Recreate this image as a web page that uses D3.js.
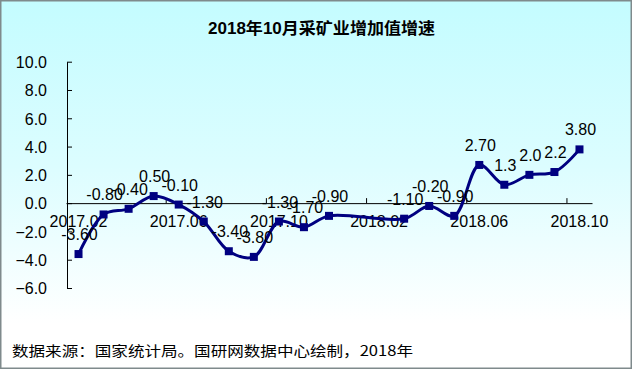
<!DOCTYPE html>
<html lang="zh">
<head>
    <meta charset="UTF-8">
    <title>2018年10月采矿业增加值增速</title>
    <script src="https://d3js.org/d3.v7.min.js"></script>
    <style>
        body { margin: 0; background: #fff; }
        svg { display: block; }
        .num { font-family: "Liberation Sans", Arial, sans-serif; font-size: 16px; fill: #000; }
    </style>
</head>
<body>
    <div id="chart"></div>

    <script>
        // Chart data
        const months = ["2017.02", "2017.03", "2017.04", "2017.05", "2017.06", "2017.07", "2017.08",
            "2017.09", "2017.10", "2017.11", "2017.12", "2018.01", "2018.02", "2018.03", "2018.04",
            "2018.05", "2018.06", "2018.07", "2018.08", "2018.09", "2018.10"];
        const growth = [-3.6, -0.8, -0.4, 0.5, -0.1, -1.3, -3.4, -3.8, -1.3, -1.7, -0.9,
            null, null, -1.1, -0.2, -0.9, 2.7, 1.3, 2.0, 2.2, 3.8];
        const valueLabels = ["-3.60", "-0.80", "-0.40", "0.50", "-0.10", "-1.30", "-3.40", "-3.80",
            "-1.30", "-1.70", "-0.90", null, null, "-1.10", "-0.20", "-0.90", "2.70", "1.3", "2.0", "2.2", "3.80"];
        const xTickLabels = ["2017.02", "2017.06", "2017.10", "2018.02", "2018.06", "2018.10"];
        const yTicks = [-6, -4, -2, 0, 2, 4, 6, 8, 10];

        const W = 632, H = 369;

        const svg = d3.select("#chart")
            .append("svg")
            .attr("width", W)
            .attr("height", H);

        // background gradient
        const grad = svg.append("defs").append("linearGradient")
            .attr("id", "bg")
            .attr("x1", 0).attr("y1", 0).attr("x2", 0).attr("y2", 1);
        grad.append("stop").attr("offset", "0%").attr("stop-color", "#c4fcff");
        grad.append("stop").attr("offset", "45%").attr("stop-color", "#dcfdff");
        grad.append("stop").attr("offset", "88%").attr("stop-color", "#ffffff");

        svg.append("rect")
            .attr("x", 0.75).attr("y", 0.75)
            .attr("width", W - 1.5).attr("height", H - 1.5)
            .attr("fill", "url(#bg)")
            .attr("stroke", "#7f8a8c")
            .attr("stroke-width", 1.5);

        // title (reference glyphs are a bit wide, so stretch to its width)
        svg.append("text")
            .attr("x", 208).attr("y", 34)
            .attr("textLength", 227)
            .attr("lengthAdjust", "spacingAndGlyphs")
            .style("font-family", "'Liberation Sans', 'Noto Sans CJK SC', sans-serif")
            .style("font-weight", "bold")
            .style("font-size", "16px")
            .text("2018年10月采矿业增加值增速");

        // scales
        const x = d3.scaleBand()
            .domain(months)
            .range([66, 592]);

        const y = d3.scaleLinear()
            .domain([-6, 10])
            .range([288, 61.7]);

        const cx = d => x(d) + x.bandwidth() / 2;

        // y axis
        const yAxis = svg.append("g")
            .attr("transform", `translate(${x.range()[0] + 1},0)`)
            .call(d3.axisLeft(y)
                .tickValues(yTicks)
                .tickFormat(d3.format(".1f"))
                .tickSizeInner(-5)
                .tickSizeOuter(0)
                .tickPadding(20));
        yAxis.select(".domain").attr("stroke", "#000");
        yAxis.selectAll(".tick line").attr("stroke", "#000");
        yAxis.selectAll("text")
            .attr("class", "num")
            .attr("dy", "0.36em");

        // x axis at zero
        const xAxis = svg.append("g")
            .attr("transform", `translate(0,${y(0)})`)
            .call(d3.axisBottom(x)
                .tickValues(xTickLabels)
                .tickSize(0)
                .tickSizeOuter(0));
        xAxis.select(".domain").attr("stroke", "#000");
        xAxis.selectAll("text")
            .attr("class", "num")
            .attr("y", 24)
            .attr("dy", 0);

        // category boundary tick marks every 4 months
        svg.append("g")
            .selectAll("line")
            .data(months.filter((m, i) => i % 4 === 0 && i > 0))
            .enter()
            .append("line")
            .attr("x1", d => x(d))
            .attr("x2", d => x(d))
            .attr("y1", y(0) - 5)
            .attr("y2", y(0))
            .attr("stroke", "#000");

        const points = months.map((m, i) => ({ m: m, v: growth[i], label: valueLabels[i] }))
            .filter(d => d.v !== null);

        // line
        const line = d3.line()
            .x(d => cx(d.m))
            .y(d => y(d.v))
            .curve(d3.curveCatmullRom.alpha(0.5));

        svg.append("path")
            .datum(points)
            .attr("fill", "none")
            .attr("stroke", "#000080")
            .attr("stroke-width", 3)
            .attr("d", line);

        // markers
        svg.selectAll(".dot")
            .data(points)
            .enter()
            .append("rect")
            .attr("class", "dot")
            .attr("x", d => cx(d.m) - 4)
            .attr("y", d => y(d.v) - 4)
            .attr("width", 8)
            .attr("height", 8)
            .attr("fill", "#000080");

        // value labels
        svg.selectAll(".vlabel")
            .data(points)
            .enter()
            .append("text")
            .attr("class", "num")
            .attr("x", d => cx(d.m) + 1)
            .attr("y", d => y(d.v) - 14)
            .attr("text-anchor", "middle")
            .text(d => d.label);

        // footer
        svg.append("text")
            .attr("x", 12).attr("y", 356)
            .attr("textLength", 401)
            .attr("lengthAdjust", "spacingAndGlyphs")
            .style("font-family", "'Noto Sans CJK SC', sans-serif")
            .style("font-size", "14px")
            .text("数据来源：国家统计局。国研网数据中心绘制，2018年");
    </script>
</body>
</html>
